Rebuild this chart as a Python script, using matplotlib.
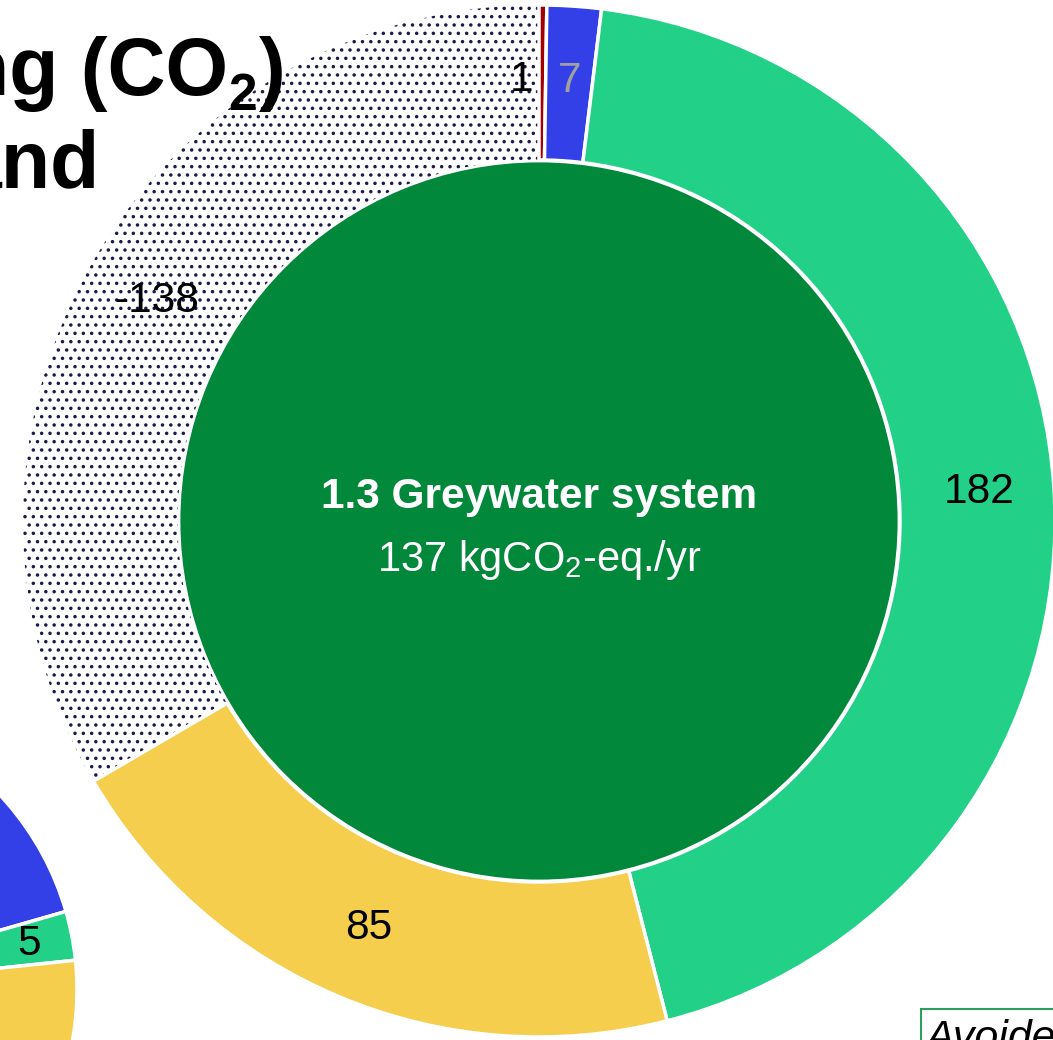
import numpy as np
import matplotlib.pyplot as plt
from matplotlib.patches import Rectangle

plt.rcParams['font.family'] = ['Liberation Sans', 'DejaVu Sans']
plt.rcParams['mathtext.fontset'] = 'custom'
plt.rcParams['mathtext.rm'] = 'Liberation Sans'
plt.rcParams['mathtext.bf'] = 'Liberation Sans:bold'
plt.rcParams['hatch.linewidth'] = 1.3

# hlavny graf: 1.3 Greywater system (kgCO2-eq./yr)
hodnoty = [1, 7, 182, 85, -138]
farby = ['#A00000', '#3340E8', '#22D088', '#F5CE4D', 'white']
farby_popisov = ['black', '#A0A0A0', 'black', 'black', 'black']
nazov = '1.3 Greywater system'
spolu = 137

# druhy graf (vacsinou mimo obrazu)
hodnoty2 = [1, 25, 5, 80, -69]

fig = plt.figure(figsize=(10.53, 10.40), dpi=100)
ax = fig.add_axes([0, 0, 1, 1])
ax.set_xlim(0, 1053)
ax.set_ylim(0, 1040)
ax.set_aspect('equal')
ax.axis('off')

stred = (539, 519)
r_von, r_dnu = 516, 361


def prstenec(hodn, stred, r_von, r_dnu, start):
    w, _ = ax.pie(np.abs(hodn), radius=r_von, center=stred, startangle=start,
                  counterclock=False, colors=farby, frame=True,
                  wedgeprops=dict(width=r_von - r_dnu, edgecolor='white', linewidth=2.5))
    # zaporna hodnota -> bodkovany vysek
    for i, v in enumerate(hodn):
        if v < 0:
            w[i].set_edgecolor('#1b1b4b')
            w[i].set_linewidth(0)
            w[i].set_hatch('..')
            w[i].set_zorder(0.5)
    return w


wedges = prstenec(hodnoty, stred, r_von, r_dnu, 90)

# vnutorny kruh
ax.pie([spolu], radius=r_dnu - 1, center=stred, colors=['#01883A'], frame=True,
       wedgeprops=dict(edgecolor='white', linewidth=2))

# popisy
r_pop = (r_von + r_dnu) / 2 + 3
for i, (w, v) in enumerate(zip(wedges, hodnoty)):
    uhol = np.deg2rad((w.theta1 + w.theta2) / 2)
    x = stred[0] + r_pop * np.cos(uhol)
    y = stred[1] + r_pop * np.sin(uhol)
    ha = 'center'
    if abs(v) < 3:
        x -= 9
        ha = 'right'
    ax.text(x, y, str(v), ha=ha, va='center', fontsize=30.5, color=farby_popisov[i])

ax.text(stred[0], stred[1] + 13, nazov, ha='center', va='baseline', fontsize=30.5,
        fontweight='bold', color='white')
ax.text(stred[0], stred[1] - 50, f'{spolu} kgCO$_2$-eq./yr', ha='center', va='baseline',
        fontsize=30, color='white')

# druhy graf vlavo dole
w2 = prstenec(hodnoty2, (-208, 50), 285, 199, 68)
for i, (w, v) in enumerate(zip(w2, hodnoty2)):
    uhol = np.deg2rad((w.theta1 + w.theta2) / 2)
    ax.text(-208 + 242 * np.cos(uhol), 50 + 242 * np.sin(uhol), str(v), ha='center',
            va='center', fontsize=30.5, color=farby_popisov[i])

# nadpis
ax.text(228, 945, 'ming (CO', ha='right', va='baseline', fontsize=58,
        fontweight='bold', color='black')
ax.text(228, 930, '2', ha='left', va='baseline', fontsize=37,
        fontweight='bold', color='black')
ax.text(259, 945, ')', ha='left', va='baseline', fontsize=58,
        fontweight='bold', color='black')
ax.text(100, 852, 'and', ha='right', va='baseline', fontsize=58, fontweight='bold',
        color='black')

# ramcek vpravo dole
ax.add_patch(Rectangle((921, -80), 300, 111, facecolor='white', edgecolor='#2E9E60',
                       linewidth=1.5, zorder=3))
ax.text(925, -10, 'Avoided', ha='left', va='baseline', fontsize=31, style='italic',
        color='black', zorder=4)

fig.savefig('out.png', dpi=100)
